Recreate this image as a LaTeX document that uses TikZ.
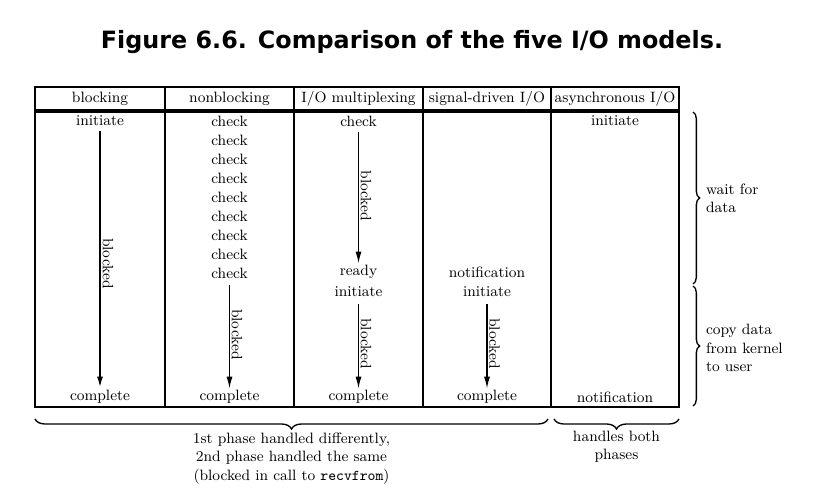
\documentclass[tikz,border=0pt]{standalone}
\usepackage{fontspec}
\usetikzlibrary{arrows.meta,positioning,decorations.pathreplacing}
\newfontfamily\titlefont{DejaVu Sans}

\tikzset{
  cell/.style={font=\fontsize{9}{11}\selectfont, inner sep=1pt},
  note/.style={cell, align=left, anchor=west},
  waitarrow/.style={
    line width=0.7pt,
    -{Latex[length=7pt,width=3.6pt]},
    shorten <=2pt
  },
  fatarrow/.style={waitarrow, line width=1.3pt},
  sidebrace/.style={decorate, decoration={brace, amplitude=4pt}, line width=0.8pt},
  lowbrace/.style={decorate, decoration={brace, mirror, amplitude=6pt}, line width=0.8pt}
}

\begin{document}
\begin{tikzpicture}[x=0.6pt, y=-0.6pt]
  \useasboundingbox (0,0) rectangle (824,496);

  \node[font=\titlefont\bfseries\fontsize{14.3}{17}\selectfont] (title) at (412,42)
    {Figure 6.6. Comparison of the five I/O models.};

  % table frame
  \draw[line width=1pt] (35,87) rectangle (679,407);
  \draw[line width=2pt] (35,111) -- (679,111);
  \foreach \x in {165,294,423,551}
    \draw[line width=0.9pt] (\x,87) -- (\x,407);

  % column heads
  \foreach \x/\t [count=\i] in {100/blocking, 229.5/nonblocking, 358.5/{I/O multiplexing},
                                487/{signal-driven I/O}, 615/{asynchronous I/O}}
    \node[cell] (head-\i) at (\x,99) {\t};

  % blocking
  \node[cell] (blk-init) at (100,121) {initiate};
  \node[cell] (blk-done) at (100,397) {complete};
  \draw[fatarrow] (blk-init) -- node[cell, sloped, above, pos=0.52] (blk-lbl) {blocked} (blk-done);

  % nonblocking
  \foreach \i in {1,...,9}
    \node[cell] (nb-\i) at (229.5,102+19*\i) {check};
  \node[cell] (nb-done) at (229.5,397) {complete};
  \draw[waitarrow, shorten <=3pt] (nb-9) -- node[cell, sloped, above] (nb-lbl) {blocked} (nb-done);

  % I/O multiplexing
  \node[cell] (mux-check) at (358.5,121) {check};
  \node[cell] (mux-ready) at (358.5,272) {ready};
  \node[cell] (mux-init) at (358.5,292) {initiate};
  \node[cell] (mux-done) at (358.5,397) {complete};
  \draw[waitarrow] (mux-check) -- node[cell, sloped, above] (mux-lbl1) {blocked} (mux-ready);
  \draw[waitarrow, shorten <=3pt] (mux-init) -- node[cell, sloped, above] (mux-lbl2) {blocked} (mux-done);

  % signal-driven I/O
  \node[cell] (sig-note) at (487,272) {notification};
  \node[cell] (sig-init) at (487,292) {initiate};
  \node[cell] (sig-done) at (487,397) {complete};
  \draw[waitarrow, shorten <=3pt] (sig-init) -- node[cell, sloped, above] (sig-lbl) {blocked} (sig-done);

  % asynchronous I/O
  \node[cell] (aio-init) at (615,121) {initiate};
  \node[cell] (aio-note) at (615,397) {notification};

  % phases on the right
  \coordinate (wait-top) at (693,112);
  \coordinate (wait-bot) at (693,284);
  \coordinate (copy-top) at (693,286);
  \coordinate (copy-bot) at (693,406);
  \draw[sidebrace] (wait-top) -- (wait-bot);
  \draw[sidebrace] (copy-top) -- (copy-bot);
  \node[note] (wait-lbl) at (704,198) {wait for\\data};
  \node[note] (copy-lbl) at (704,348) {copy data\\from kernel\\to user};

  % phases below
  \coordinate (diff-l) at (35,419);
  \coordinate (diff-r) at (548,419);
  \coordinate (both-l) at (554,419);
  \coordinate (both-r) at (679,419);
  \draw[lowbrace] (diff-l) -- (diff-r);
  \draw[lowbrace] (both-l) -- (both-r);
  \node[cell, align=center, anchor=north] (diff-lbl) at (291.5,431)
    {1st phase handled differently,\\2nd phase handled the same\\(blocked in call to \texttt{recvfrom})};
  \node[cell, align=center, anchor=north] (both-lbl) at (616.5,429) {handles both\\phases};
\end{tikzpicture}
\end{document}
